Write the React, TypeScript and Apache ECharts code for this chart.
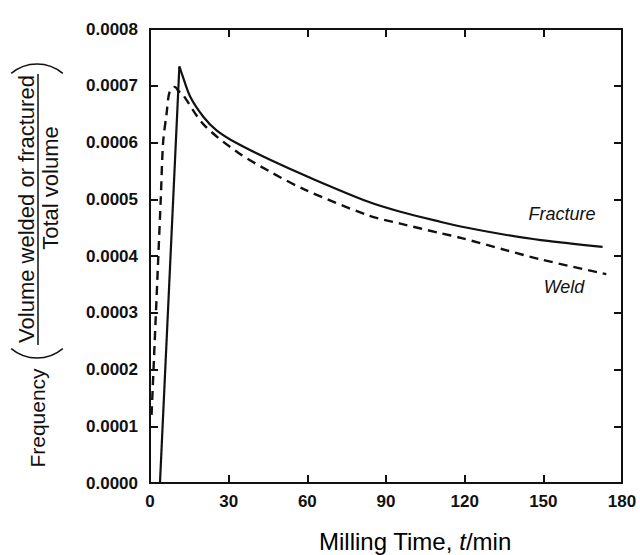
import React, { useEffect, useRef } from "react";
import * as echarts from "echarts";

const xTicks = { min: 0, max: 180, interval: 30 };
const yTicks = { min: 0, max: 0.0008, interval: 0.0001 };

const fractureT = [3.8, 11.2, 12.1, 15.3, 20.4, 25.5, 33, 46, 60, 83, 95.5, 111, 118.5, 136, 149, 172.6];
const fractureV = [0, 0.000734, 0.000722, 0.000681, 0.000645, 0.000621, 0.000599, 0.000569, 0.00054, 0.000496, 0.000478, 0.00046, 0.000452, 0.000437, 0.000428, 0.000416];

const weldT = [0.6, 4.1, 5.0, 6.3, 7.5, 9.5, 11, 12, 20.4, 33, 46, 59, 83, 95.5, 111, 118.5, 136, 149, 174];
const weldV = [0.00012, 0.0005, 0.0006, 0.00065, 0.00069, 0.000698, 0.00069, 0.000688, 0.000632, 0.000584, 0.000548, 0.000517, 0.000472, 0.000457, 0.00044, 0.000432, 0.00041, 0.000394, 0.000368];

const seriesNames = ["Fracture", "Weld"];
const xTitle = "Milling Time, ";
const yTitleMain = "Frequency";
const yTitleNum = "Volume welded or fractured";
const yTitleDen = "Total volume";

const FONT = "'Liberation Sans', Arial, Helvetica, sans-serif";
const INK = "#111";

export default function App() {
  const ref = useRef<HTMLDivElement>(null);
  useEffect(() => {
    if (!ref.current) return;
    const chart = echarts.init(ref.current, null, { renderer: "svg" });
    const axisLine = { show: true, onZero: false, lineStyle: { color: INK, width: 2 } };
    const axisTick = { show: true, inside: true, length: 8, lineStyle: { color: INK, width: 2 } };
    const labelStyle = { fontSize: 17, fontWeight: "bold", color: INK, fontFamily: FONT };
    const fracture = fractureT.map((t, i) => [t, fractureV[i]]);
    const weld = weldT.map((t, i) => [t, weldV[i]]);
    const option: any = {
      animation: false,
      backgroundColor: "#fff",
      grid: { left: 150, right: 18, top: 29, bottom: 72 },
      xAxis: [
        {
          type: "value",
          ...xTicks,
          axisLine,
          axisTick,
          splitLine: { show: false },
          axisLabel: { ...labelStyle, margin: 10 },
        },
        {
          type: "value",
          position: "top",
          ...xTicks,
          axisLine,
          axisTick,
          splitLine: { show: false },
          axisLabel: { show: false },
        },
      ],
      yAxis: [
        {
          type: "value",
          ...yTicks,
          axisLine,
          axisTick,
          splitLine: { show: false },
          axisLabel: { ...labelStyle, margin: 12, formatter: (v: number) => v.toFixed(4) },
        },
        {
          type: "value",
          position: "right",
          ...yTicks,
          axisLine,
          axisTick,
          splitLine: { show: false },
          axisLabel: { show: false },
        },
      ],
      series: [
        {
          name: seriesNames[0],
          type: "line",
          symbol: "none",
          data: fracture.slice(0, 2),
          lineStyle: { color: INK, width: 2.2 },
        },
        {
          name: seriesNames[0],
          type: "line",
          symbol: "none",
          smooth: 0.3,
          data: fracture.slice(1),
          lineStyle: { color: INK, width: 2.2 },
        },
        {
          name: seriesNames[1],
          type: "line",
          symbol: "none",
          smooth: 0.3,
          data: weld,
          lineStyle: { color: INK, width: 2.4, type: [9, 6] },
        },
      ],
      graphic: [
        {
          type: "text",
          x: 562,
          y: 214,
          style: { text: seriesNames[0], font: `italic 18px ${FONT}`, fill: INK, align: "center", verticalAlign: "middle" },
        },
        {
          type: "text",
          x: 564,
          y: 287,
          style: { text: seriesNames[1], font: `italic 18px ${FONT}`, fill: INK, align: "center", verticalAlign: "middle" },
        },
        {
          type: "text",
          x: 415,
          y: 541,
          style: {
            text: `{a|${xTitle}}{b|t}{a|/min}`,
            align: "center",
            verticalAlign: "middle",
            rich: {
              a: { fontSize: 24, fontFamily: FONT, color: INK },
              b: { fontSize: 24, fontFamily: FONT, fontStyle: "italic", color: INK },
            },
          },
        },
        {
          type: "text",
          x: 37,
          y: 418,
          rotation: Math.PI / 2,
          style: { text: yTitleMain, font: `21px ${FONT}`, fill: INK, align: "center", verticalAlign: "middle" },
        },
        {
          type: "text",
          x: 26,
          y: 209,
          rotation: Math.PI / 2,
          style: { text: yTitleNum, font: `22px ${FONT}`, fill: INK, align: "center", verticalAlign: "middle" },
        },
        {
          type: "text",
          x: 50,
          y: 188,
          rotation: Math.PI / 2,
          style: { text: yTitleDen, font: `22px ${FONT}`, fill: INK, align: "center", verticalAlign: "middle" },
        },
        {
          type: "line",
          shape: { x1: 38, y1: 74, x2: 38, y2: 345 },
          style: { stroke: INK, lineWidth: 1.5 },
        },
        {
          type: "arc",
          shape: { cx: 37, cy: 64 + 40, r: 40, startAngle: -Math.PI / 2 - 0.7, endAngle: -Math.PI / 2 + 0.7, clockwise: true },
          style: { stroke: INK, lineWidth: 1.5, fill: "none" },
        },
        {
          type: "arc",
          shape: { cx: 37, cy: 358 - 40, r: 40, startAngle: Math.PI / 2 - 0.7, endAngle: Math.PI / 2 + 0.7, clockwise: true },
          style: { stroke: INK, lineWidth: 1.5, fill: "none" },
        },
      ],
    };
    chart.setOption(option);
    return () => chart.dispose();
  }, []);
  return (
    <div
      ref={ref}
      style={{ position: "fixed", left: 0, top: 0, width: 640, height: 555, background: "#fff" }}
    />
  );
}
